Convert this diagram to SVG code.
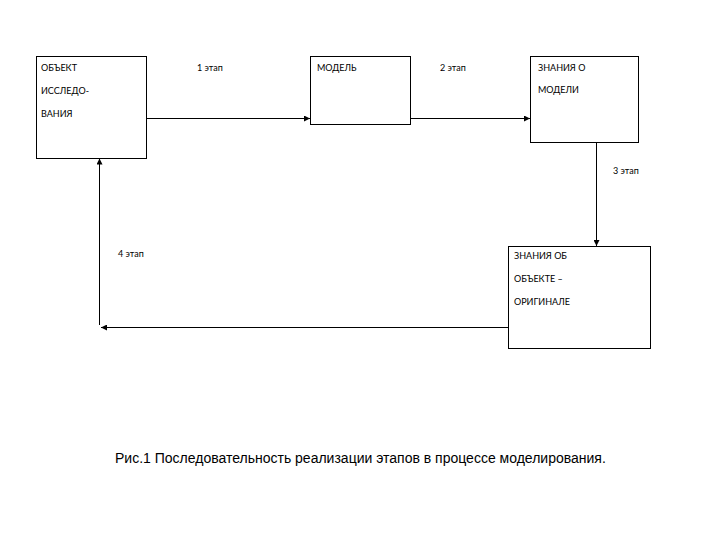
<svg xmlns="http://www.w3.org/2000/svg" width="720" height="540" viewBox="0 0 720 540">
<style>
.box{fill:#fff;stroke:#000;stroke-width:1}
.t{font-family:"Lato","Open Sans","DejaVu Sans",sans-serif;font-size:9px;fill:#000}
.c{font-family:"Liberation Sans",Arial,sans-serif;font-size:14px;fill:#000}
.ln{stroke:#000;stroke-width:1;fill:none;marker-end:url(#ah)}
</style>
<defs>
<marker id="ah" viewBox="0 0 10 10" refX="10" refY="5" markerWidth="6" markerHeight="6" orient="auto" markerUnits="userSpaceOnUse">
<path d="M0,0 L10,5 L0,10 z" fill="#000"/>
</marker>
</defs>
<rect width="720" height="540" fill="#fff"/>
<g id="connectors">
<line class="ln" x1="146.5" y1="118.5" x2="310" y2="118.5"/>
<line class="ln" x1="410.5" y1="118.5" x2="530" y2="118.5"/>
<line class="ln" x1="596.5" y1="142.5" x2="596.5" y2="246"/>
<line class="ln" x1="508.5" y1="327.5" x2="101" y2="327.5"/>
<line class="ln" x1="99.5" y1="325" x2="99.5" y2="158.5"/>
<text class="t" x="197" y="71">1 этап</text>
<text class="t" x="440" y="71">2 этап</text>
<text class="t" x="613" y="174">3 этап</text>
<text class="t" x="118" y="257">4 этап</text>
</g>
<g id="obj">
<rect class="box" x="36.5" y="56.5" width="110" height="102"/>
<text class="t" x="41" y="71">ОБЪЕКТ</text>
<text class="t" x="41" y="94">ИССЛЕДО-</text>
<text class="t" x="41" y="117">ВАНИЯ</text>
</g>
<g id="model">
<rect class="box" x="310.5" y="56.5" width="100" height="68"/>
<text class="t" x="317" y="71">МОДЕЛЬ</text>
</g>
<g id="knowmodel">
<rect class="box" x="530.5" y="56.5" width="108" height="86"/>
<text class="t" x="538" y="71">ЗНАНИЯ О</text>
<text class="t" x="538" y="93">МОДЕЛИ</text>
</g>
<g id="knoworig">
<rect class="box" x="508.5" y="246.5" width="142" height="102"/>
<text class="t" x="514" y="259">ЗНАНИЯ ОБ</text>
<text class="t" x="514" y="282">ОБЪЕКТЕ –</text>
<text class="t" x="514" y="305">ОРИГИНАЛЕ</text>
</g>
<text class="c" x="115" y="463">Рис.1 Последовательность реализации этапов в процессе моделирования.</text>
</svg>
